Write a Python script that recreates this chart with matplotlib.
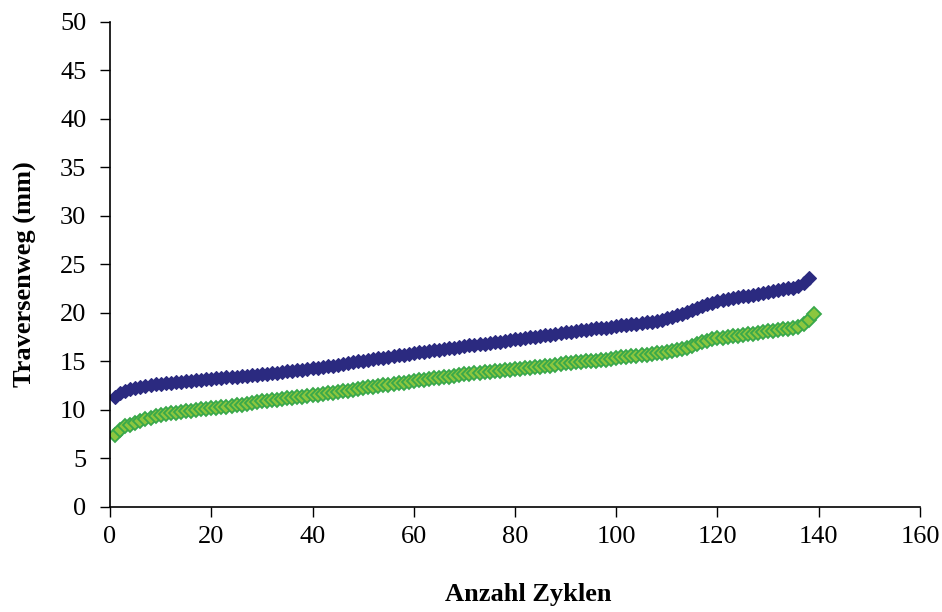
import matplotlib
matplotlib.use("Agg")
import matplotlib.pyplot as plt

# cycle numbers and measured crosshead travel (mm)
cycles_a = list(range(1, 139))
travel_a = [
    11.3, 11.8, 12.0, 12.2, 12.3, 12.4, 12.5, 12.6, 12.65, 12.7,
    12.75, 12.8, 12.85, 12.9, 12.95, 13.0, 13.05, 13.1, 13.15, 13.2,
    13.25, 13.3, 13.35, 13.4, 13.45, 13.5, 13.55, 13.6, 13.65, 13.7,
    13.75, 13.8, 13.85, 13.9, 14.0, 14.05, 14.1, 14.15, 14.2, 14.3,
    14.35, 14.4, 14.5, 14.55, 14.6, 14.7, 14.8, 14.9, 15.0, 15.1,
    15.2, 15.3, 15.35, 15.4, 15.5, 15.55, 15.65, 15.7, 15.8, 15.9,
    15.95, 16.0, 16.1, 16.15, 16.2, 16.3, 16.35, 16.4, 16.5, 16.6,
    16.65, 16.7, 16.8, 16.85, 16.9, 17.0, 17.05, 17.1, 17.2, 17.3,
    17.35, 17.4, 17.5, 17.55, 17.6, 17.7, 17.75, 17.8, 17.9, 18.0,
    18.05, 18.1, 18.2, 18.25, 18.3, 18.4, 18.45, 18.5, 18.6, 18.7,
    18.75, 18.8, 18.85, 18.9, 19.0, 19.05, 19.1, 19.2, 19.3, 19.5,
    19.6, 19.75, 19.9, 20.1, 20.3, 20.5, 20.7, 20.9, 21.05, 21.2,
    21.3, 21.4, 21.5, 21.6, 21.7, 21.8, 21.9, 22.0, 22.1, 22.2,
    22.3, 22.4, 22.5, 22.55, 22.6, 22.8, 23.1, 23.6,
]

cycles_b = list(range(1, 140))
travel_b = [
    7.4, 7.9, 8.3, 8.5, 8.7, 8.9, 9.05, 9.2, 9.35, 9.5,
    9.6, 9.65, 9.7, 9.8, 9.85, 9.9, 10.0, 10.05, 10.1, 10.2,
    10.25, 10.3, 10.35, 10.4, 10.5, 10.55, 10.6, 10.7, 10.8, 10.9,
    10.95, 11.0, 11.05, 11.1, 11.2, 11.25, 11.3, 11.35, 11.4, 11.5,
    11.55, 11.6, 11.7, 11.8, 11.9, 11.95, 12.0, 12.1, 12.2, 12.3,
    12.35, 12.4, 12.5, 12.55, 12.6, 12.7, 12.75, 12.8, 12.9, 13.0,
    13.05, 13.1, 13.2, 13.25, 13.3, 13.4, 13.45, 13.5, 13.6, 13.7,
    13.75, 13.8, 13.85, 13.9, 13.95, 14.0, 14.05, 14.1, 14.15, 14.2,
    14.25, 14.3, 14.35, 14.4, 14.45, 14.5, 14.55, 14.6, 14.7, 14.8,
    14.85, 14.9, 14.95, 15.0, 15.05, 15.1, 15.15, 15.2, 15.3, 15.4,
    15.45, 15.5, 15.55, 15.6, 15.65, 15.7, 15.8, 15.85, 15.9, 16.0,
    16.1, 16.2, 16.3, 16.4, 16.6, 16.8, 17.0, 17.15, 17.3, 17.4,
    17.45, 17.5, 17.6, 17.65, 17.7, 17.8, 17.85, 17.9, 18.0, 18.1,
    18.15, 18.2, 18.3, 18.35, 18.4, 18.6, 18.9, 19.3, 19.9,
]

x_ticks = [0, 20, 40, 60, 80, 100, 120, 140, 160]
y_ticks = [0, 5, 10, 15, 20, 25, 30, 35, 40, 45, 50]


def main():
    plt.rcParams["font.family"] = ["Liberation Serif", "DejaVu Serif"]

    fig = plt.figure(figsize=(9.42, 6.12), dpi=100)
    ax = fig.add_axes([0.1168, 0.1716, 0.8598, 0.7925])

    ax.plot(cycles_a, travel_a, linestyle="none", marker="D", markersize=7,
            color="#2B2A80", markeredgecolor="#2B2A80", markeredgewidth=0.8)
    ax.plot(cycles_b, travel_b, linestyle="none", marker="D", markersize=7.5,
            markerfacecolor="#8CC63F", markeredgecolor="#38A84A", markeredgewidth=1.3)

    ax.set_xlim(0, 160)
    ax.set_ylim(0, 50)
    ax.set_xticks(x_ticks)
    ax.set_yticks(y_ticks)
    ax.tick_params(direction="out", length=7, width=1, labelsize=19)
    ax.tick_params(axis="x", pad=7)
    ax.tick_params(axis="y", pad=10)

    ax.spines["top"].set_visible(False)
    ax.spines["right"].set_visible(False)
    ax.spines["left"].set_linewidth(1.2)
    ax.spines["bottom"].set_linewidth(1.2)

    ax.set_xlabel("Anzahl Zyklen", fontsize=19, fontweight="bold", va="center")
    ax.set_ylabel("Traversenweg (mm)", fontsize=19, fontweight="bold", va="center")
    ax.xaxis.set_label_coords(0.516, -0.181)
    ax.yaxis.set_label_coords(-0.105, 0.48)

    fig.savefig("out.png", dpi=100)
    plt.close(fig)


if __name__ == "__main__":
    main()
